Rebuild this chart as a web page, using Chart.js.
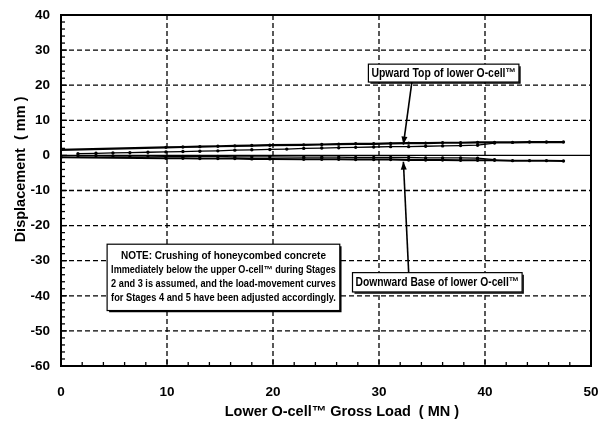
<!DOCTYPE html>
<html>
<head>
<meta charset="utf-8">
<script src="https://cdn.jsdelivr.net/npm/chart.js@4.4.1/dist/chart.umd.min.js"></script>
<style>
  html, body { margin: 0; padding: 0; background: #fff; }
  #wrap { width: 603px; height: 430px; position: relative; }
</style>
</head>
<body>
<div id="wrap"><canvas id="c" width="603" height="430"></canvas></div>
<script>
// Lower O-cell gross load (MN) vs displacement (mm)
const xTicks = [0, 10, 20, 30, 40, 50];
const yTicks = [40, 30, 20, 10, 0, -10, -20, -30, -40, -50, -60];

// Upward movement, top of lower O-cell (loading envelope)
const upMainLoad = [0, 9.9, 11.5, 13.1, 14.8, 16.4, 18.0, 19.7, 22.9, 24.6, 26.2, 27.8, 29.5, 31.1, 32.8, 34.4, 36.0, 37.7, 39.3, 40.9, 42.6, 44.2, 45.8, 47.4];
const upMainDisp = [1.6, 2.3, 2.4, 2.5, 2.6, 2.7, 2.8, 2.9, 3.0, 3.1, 3.2, 3.3, 3.3, 3.4, 3.5, 3.5, 3.6, 3.6, 3.7, 3.7, 3.7, 3.8, 3.8, 3.8];

// Upward movement, reload branch
const upReloadLoad = [1.6, 3.3, 4.9, 6.5, 8.2, 9.9, 11.5, 13.1, 14.8, 16.4, 18.0, 19.7, 21.3, 22.9, 24.6, 26.2, 27.8, 29.5, 31.1, 32.8, 34.4, 36.0, 37.7, 39.3, 40.9];
const upReloadDisp = [0.5, 0.6, 0.7, 0.8, 0.9, 1.0, 1.1, 1.2, 1.3, 1.5, 1.6, 1.7, 1.8, 2.0, 2.1, 2.2, 2.3, 2.4, 2.5, 2.5, 2.6, 2.7, 2.8, 2.9, 3.5];

// Downward movement, base of lower O-cell (reload branch)
const downReloadLoad = [1.6, 3.3, 4.9, 6.5, 8.2, 9.9, 11.5, 13.1, 14.8, 16.4, 18.0, 19.7, 22.9, 24.6, 26.2, 27.8, 29.5, 31.1, 32.8, 34.4, 36.0, 37.7, 39.3, 40.9];
const downReloadDisp = [-0.1, -0.1, -0.2, -0.2, -0.2, -0.3, -0.3, -0.3, -0.3, -0.4, -0.4, -0.4, -0.5, -0.5, -0.5, -0.6, -0.6, -0.6, -0.6, -0.7, -0.7, -0.7, -0.8, -1.2];

// Downward movement, base of lower O-cell (loading envelope)
const downMainLoad = [0, 9.9, 11.5, 13.1, 14.8, 16.4, 18.0, 19.7, 22.9, 24.6, 26.2, 27.8, 29.5, 31.1, 32.8, 34.4, 36.0, 37.7, 39.3, 40.9, 42.6, 44.2, 45.8, 47.4];
const downMainDisp = [-0.5, -0.8, -0.8, -0.9, -0.9, -0.9, -1.0, -1.0, -1.1, -1.1, -1.1, -1.2, -1.2, -1.2, -1.3, -1.3, -1.3, -1.4, -1.4, -1.4, -1.5, -1.5, -1.5, -1.6];

const noteLines = [
  'NOTE: Crushing of honeycombed concrete',
  'Immediately below the upper O-cell\u2122 during Stages',
  '2 and 3 is assumed, and the load-movement curves',
  'for Stages 4 and 5 have been adjusted accordingly.'
];
const upLabel = 'Upward Top of lower O-cell\u2122';
const downLabel = 'Downward Base of lower O-cell\u2122';
const xTitle = 'Lower O-cell\u2122 Gross Load  ( MN )';
const yTitle = 'Displacement  ( mm )';

const pts = (xs, ys) => xs.map((x, i) => ({ x: x, y: ys[i] }));

function series(label, xs, ys, width) {
  return {
    label: label,
    data: pts(xs, ys),
    showLine: true,
    borderColor: '#000',
    backgroundColor: '#000',
    borderWidth: width,
    pointRadius: 1.7,
    pointBorderWidth: 0,
    tension: 0
  };
}

const titleFont = 'bold 14.5px "Liberation Sans", Arial, sans-serif';

// Dashed grid, frame, minor ticks, zero line, axis titles, callouts and note box
const decor = {
  id: 'decor',
  afterDatasetsDraw(chart) {
    const ctx = chart.ctx;
    const a = chart.chartArea;
    const x = chart.scales.x;
    const y = chart.scales.y;
    const X = v => x.getPixelForValue(v);
    const Y = v => y.getPixelForValue(v);
    const seg = (x1, y1, x2, y2) => {
      ctx.beginPath(); ctx.moveTo(x1, y1); ctx.lineTo(x2, y2); ctx.stroke();
    };

    ctx.save();
    ctx.strokeStyle = '#000';
    ctx.lineWidth = 1.3;
    // dashed grid at inner major ticks
    ctx.setLineDash([5, 3]);
    xTicks.forEach(v => {
      if (v > 0 && v < 50) seg(X(v), a.top, X(v), a.bottom);
    });
    yTicks.forEach(v => {
      if (v > -60 && v < 40 && v !== 0) seg(a.left, Y(v), a.right, Y(v));
    });
    ctx.setLineDash([]);
    // zero line
    seg(a.left, Y(0), a.right, Y(0));
    // inward ticks on the left and bottom axes
    for (let v = -60; v <= 40; v += 2) {
      seg(a.left, Y(v), a.left + (v % 10 === 0 ? 6 : 4), Y(v));
    }
    for (let v = 0; v <= 50; v += 2) {
      seg(X(v), a.bottom, X(v), a.bottom - (v % 10 === 0 ? 6 : 4));
    }

    // plot frame
    ctx.lineWidth = 2;
    ctx.strokeRect(a.left, a.top, a.right - a.left, a.bottom - a.top);

    // axis titles
    ctx.fillStyle = '#000';
    ctx.font = titleFont;
    ctx.textAlign = 'center';
    ctx.textBaseline = 'middle';
    ctx.fillText(xTitle, X(26.5), 412);
    ctx.save();
    ctx.translate(21, Y(-4));
    ctx.rotate(-Math.PI / 2);
    ctx.fillText(yTitle, 0, 0);
    ctx.restore();

    function arrow(x1, y1, x2, y2) {
      ctx.strokeStyle = '#000';
      ctx.fillStyle = '#000';
      ctx.lineWidth = 1.6;
      seg(x1, y1, x2, y2);
      const ang = Math.atan2(y2 - y1, x2 - x1);
      const L = 8, W = 3;
      ctx.beginPath();
      ctx.moveTo(x2, y2);
      ctx.lineTo(x2 - L * Math.cos(ang) + W * Math.sin(ang), y2 - L * Math.sin(ang) - W * Math.cos(ang));
      ctx.lineTo(x2 - L * Math.cos(ang) - W * Math.sin(ang), y2 - L * Math.sin(ang) + W * Math.cos(ang));
      ctx.closePath(); ctx.fill();
    }

    function box(x1, y1, x2, y2) {
      ctx.fillStyle = '#fff';
      ctx.fillRect(x1, y1, x2 - x1, y2 - y1);
      ctx.strokeStyle = '#000';
      ctx.lineWidth = 1.2;
      ctx.strokeRect(x1, y1, x2 - x1, y2 - y1);
      // drop shadow on right and bottom
      ctx.lineWidth = 1.5;
      ctx.beginPath();
      ctx.moveTo(x1 + 2, y2 + 1); ctx.lineTo(x2 + 1, y2 + 1); ctx.lineTo(x2 + 1, y1 + 2);
      ctx.stroke();
    }

    // upward callout
    arrow(X(33.1), Y(20.9), X(32.3), Y(3.1));
    let bx1 = X(29.0), bx2 = X(43.2), by1 = Y(26.0), by2 = Y(20.9);
    box(bx1, by1, bx2, by2);
    ctx.fillStyle = '#000';
    ctx.font = 'bold 12.5px "Liberation Sans Narrow", "Liberation Sans", Arial, sans-serif';
    ctx.fillText(upLabel, (bx1 + bx2) / 2, (by1 + by2) / 2 + 0.5, bx2 - bx1 - 6);

    // downward callout
    arrow(X(32.8), Y(-33.4), X(32.3), Y(-1.8));
    bx1 = X(27.5); bx2 = X(43.5); by1 = Y(-33.4); by2 = Y(-38.9);
    box(bx1, by1, bx2, by2);
    ctx.fillStyle = '#000';
    ctx.fillText(downLabel, (bx1 + bx2) / 2, (by1 + by2) / 2 + 0.5, bx2 - bx1 - 6);

    // note box
    bx1 = X(4.35); bx2 = X(26.3); by1 = Y(-25.3); by2 = Y(-44.2);
    box(bx1, by1, bx2, by2);
    ctx.fillStyle = '#000';
    ctx.font = 'bold 10px "Liberation Sans Narrow", "Liberation Sans", Arial, sans-serif';
    const cx = (bx1 + bx2) / 2;
    const step = (by2 - by1) / (noteLines.length + 0.7);
    noteLines.forEach((t, i) => {
      ctx.fillText(t, cx, by1 + step * (i + 0.85), bx2 - bx1 - 8);
    });
    ctx.restore();
  }
};

const tickFont = { family: '"Liberation Sans", Arial, sans-serif', size: 13.5, weight: 'bold' };

new Chart(document.getElementById('c'), {
  type: 'scatter',
  data: {
    datasets: [
      series('Upward Top of lower O-cell\u2122', upMainLoad, upMainDisp, 2.2),
      series('Upward reload', upReloadLoad, upReloadDisp, 1.3),
      series('Downward reload', downReloadLoad, downReloadDisp, 1.3),
      series('Downward Base of lower O-cell\u2122', downMainLoad, downMainDisp, 2.0)
    ]
  },
  options: {
    responsive: false,
    animation: false,
    devicePixelRatio: 1,
    layout: { padding: { left: 0, right: 12, top: 15, bottom: 0 } },
    plugins: {
      legend: { display: false },
      tooltip: { enabled: false }
    },
    scales: {
      x: {
        type: 'linear',
        min: 0, max: 50,
        afterBuildTicks: s => { s.ticks = xTicks.map(v => ({ value: v })); },
        afterFit: s => { s.height = 64; s.paddingLeft = 0; s.paddingRight = 0; },
        ticks: { color: '#000', font: tickFont, padding: 18, maxRotation: 0 },
        grid: { display: false, drawTicks: false },
        border: { display: false },
        title: { display: false }
      },
      y: {
        type: 'linear',
        min: -60, max: 40,
        afterBuildTicks: s => { s.ticks = yTicks.map(v => ({ value: v })); },
        afterFit: s => { s.width = 61; s.paddingTop = 0; s.paddingBottom = 0; },
        ticks: { color: '#000', font: tickFont, padding: 11 },
        grid: { display: false, drawTicks: false },
        border: { display: false },
        title: { display: false }
      }
    }
  },
  plugins: [decor]
});
</script>
</body>
</html>
